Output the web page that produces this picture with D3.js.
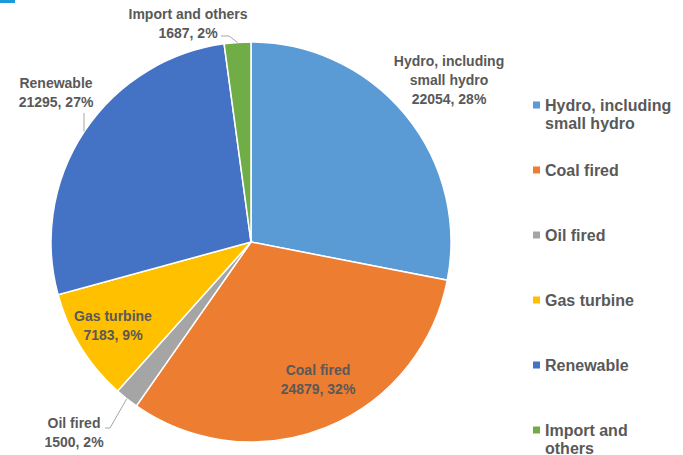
<!DOCTYPE html>
<html>
<head>
<meta charset="utf-8">
<script src="https://cdn.jsdelivr.net/npm/d3@7"></script>
<style>
    body { margin: 0; background: #fff; }
    svg { display: block; }
    text { font-family: "Liberation Sans", Arial, sans-serif; font-weight: bold; fill: #595959; }
</style>
</head>
<body>
<script>
    "use strict";

    // installed capacity by source (MW)
    var categories = ["Hydro, including small hydro", "Coal fired", "Oil fired",
        "Gas turbine", "Renewable", "Import and others"]
    var values = [22054, 24879, 1500, 7183, 21295, 1687]
    var colors = ["#5b9bd5", "#ed7d31", "#a5a5a5", "#ffc000", "#4472c4", "#70ad47"]
    // how each name is broken in the data labels and in the legend
    var labelLines = [["Hydro, including", "small hydro"], ["Coal fired"], ["Oil fired"],
        ["Gas turbine"], ["Renewable"], ["Import and others"]]
    var legendLines = [["Hydro, including", "small hydro"], ["Coal fired"], ["Oil fired"],
        ["Gas turbine"], ["Renewable"], ["Import and", "others"]]

    var width = 683
    var height = 455
    var cx = 251
    var cy = 242
    var radius = 200
    var lineHeight = 19

    // label anchors (centre of text, first baseline) relative to pie centre
    var labelOffsets = [[198, -176], [67, 133], [-177, 186], [-138, 79], [-195, -154], [-63, -223]]
    // leader lines: start and optional elbow, relative to pie centre
    var leaders = [null, null, {start: [-146, 186], elbow: [-141, 186]}, null,
        {start: [-167, -129]}, {start: [-30, -206], elbow: [-22, -206]}]

    var total = d3.sum(values)
    var pct = d3.format(".0%")

    var svg = d3.select("body").append("svg")
        .attr("width", width)
        .attr("height", height)

    // little blue tick left over in the top corner
    svg.append("rect")
        .attr("x", 0).attr("y", 0)
        .attr("width", 15).attr("height", 3)
        .attr("fill", "#1a9bd7")

    var data = categories.map(function(c, i) {
        return {name: c, value: values[i], i: i}
    })

    var pie = d3.pie()
        .sort(null)
        .value(function(d) { return d.value })

    var arc = d3.arc().innerRadius(0).outerRadius(radius)
    var edge = d3.arc().innerRadius(radius).outerRadius(radius)

    var g = svg.append("g").attr("transform", "translate(" + cx + "," + cy + ")")
    var arcs = pie(data)

    g.selectAll("path.slice")
        .data(arcs)
        .enter().append("path")
        .attr("class", "slice")
        .attr("d", arc)
        .attr("fill", function(d) { return colors[d.data.i] })
        .attr("stroke", "#fff")
        .attr("stroke-width", 1.5)

    // leader lines
    arcs.forEach(function(d) {
        var l = leaders[d.data.i]
        if (!l) return
        var end = edge.centroid(d)
        var pts = [l.start]
        if (l.elbow) pts.push(l.elbow)
        if (!l.elbow) end = [l.start[0], end[1]]
        pts.push(end)
        g.append("path")
            .attr("d", d3.line()(pts))
            .attr("fill", "none")
            .attr("stroke", "#a6a6a6")
            .attr("stroke-width", 1)
    })

    // data labels
    arcs.forEach(function(d) {
        var i = d.data.i
        var lines = labelLines[i].concat([d3.format("d")(d.data.value) + ", " +
            pct(d.data.value / total)])
        var t = g.append("text")
            .attr("text-anchor", "middle")
            .style("font-size", "14px")
        lines.forEach(function(s, k) {
            t.append("tspan")
                .attr("x", labelOffsets[i][0])
                .attr("y", labelOffsets[i][1] + k * lineHeight)
                .text(s)
        })
    })

    // legend
    var legend = svg.append("g").attr("transform", "translate(533,105)")
    var item = legend.selectAll("g")
        .data(data)
        .enter().append("g")
        .attr("transform", function(d, i) { return "translate(0," + (i * 65) + ")" })
    item.append("rect")
        .attr("x", 0).attr("y", -3.5)
        .attr("width", 7).attr("height", 7)
        .attr("fill", function(d) { return colors[d.i] })
    item.append("text")
        .style("font-size", "16px")
        .each(function(d) {
            var t = d3.select(this)
            legendLines[d.i].forEach(function(s, k) {
                t.append("tspan")
                    .attr("x", 12)
                    .attr("y", 5.5 + k * 18.5)
                    .text(s)
            })
        })
</script>
</body>
</html>
